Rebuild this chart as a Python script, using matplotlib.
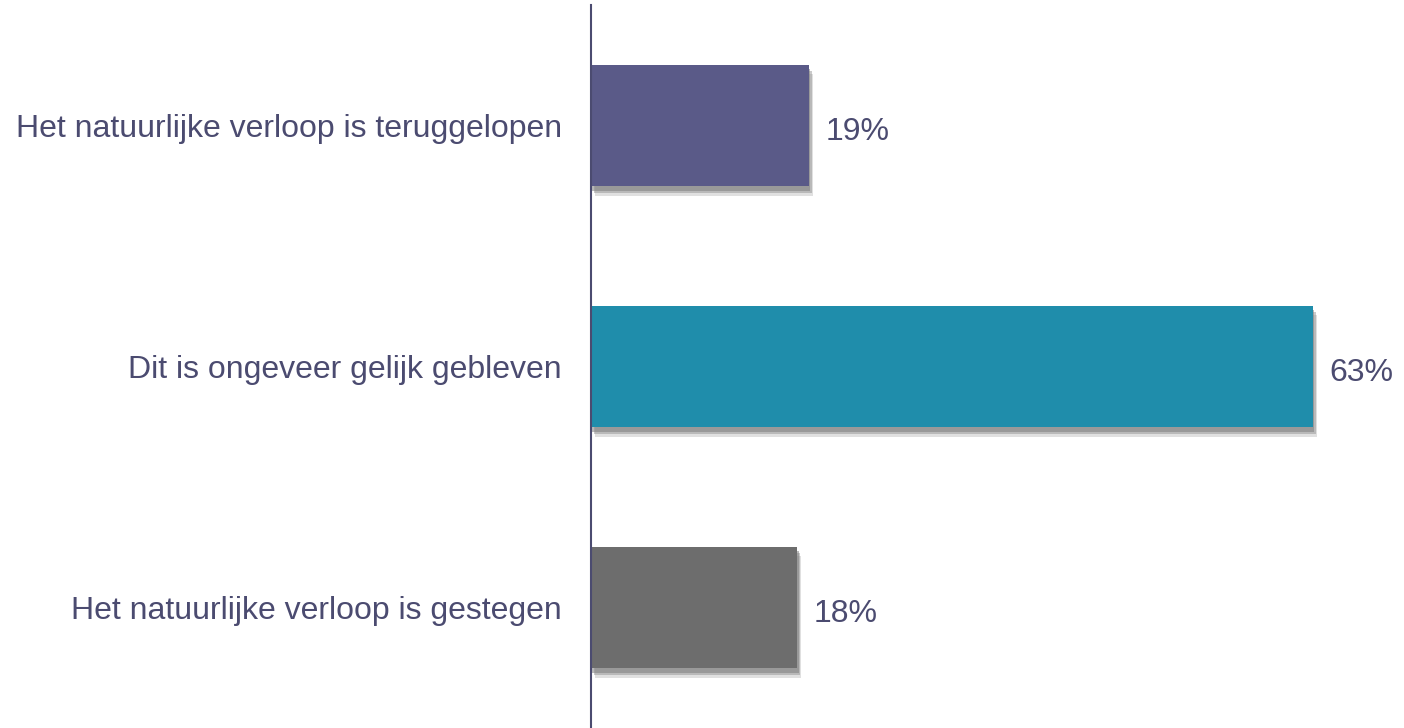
import matplotlib
matplotlib.use("Agg")
import matplotlib.pyplot as plt
import matplotlib.patheffects as pe

categories = [
    "Het natuurlijke verloop is teruggelopen",
    "Dit is ongeveer gelijk gebleven",
    "Het natuurlijke verloop is gestegen",
]
values = [19, 63, 18]
value_labels = ["19%", "63%", "18%"]
bar_colors = ["#5a5a88", "#1f8dab", "#6d6d6d"]

TEXT_COLOR = "#4b4b70"

plt.rcParams["font.family"] = ["Liberation Sans", "DejaVu Sans"]

fig = plt.figure(figsize=(14.04, 7.28), dpi=100)
ax = fig.add_axes([591 / 1404, 0, (1404 - 591) / 1404, 723 / 728])

ypos = list(range(len(categories)))
bars = ax.barh(ypos, values, height=0.506, color=bar_colors)
# soft drop shadow, mostly below the bar
for b in bars:
    b.set_path_effects([
        pe.SimplePatchShadow(offset=(3, -7), shadow_rgbFace="#999999", alpha=0.3),
        pe.SimplePatchShadow(offset=(2, -5), shadow_rgbFace="#8a8a8a", alpha=0.45),
        pe.SimplePatchShadow(offset=(1, -3), shadow_rgbFace="#808080", alpha=0.55),
        pe.Normal(),
    ])

for y, v, lab in zip(ypos, values, value_labels):
    ax.annotate(lab, (v, y), xytext=(12, -2), textcoords="offset points",
                va="center_baseline", ha="left", fontsize=23, color=TEXT_COLOR)

ax.set_xlim(0, 813 / 11.46)
ax.set_ylim(2.5, -0.5)
ax.set_yticks(ypos)
ax.set_yticklabels(categories, fontsize=23, color=TEXT_COLOR, va="center_baseline")
ax.tick_params(axis="y", length=0, pad=21)
ax.set_xticks([])
for side in ["top", "right", "bottom"]:
    ax.spines[side].set_visible(False)
ax.spines["left"].set_color(TEXT_COLOR)
ax.spines["left"].set_linewidth(1.5)

fig.savefig("out.png", dpi=100)
